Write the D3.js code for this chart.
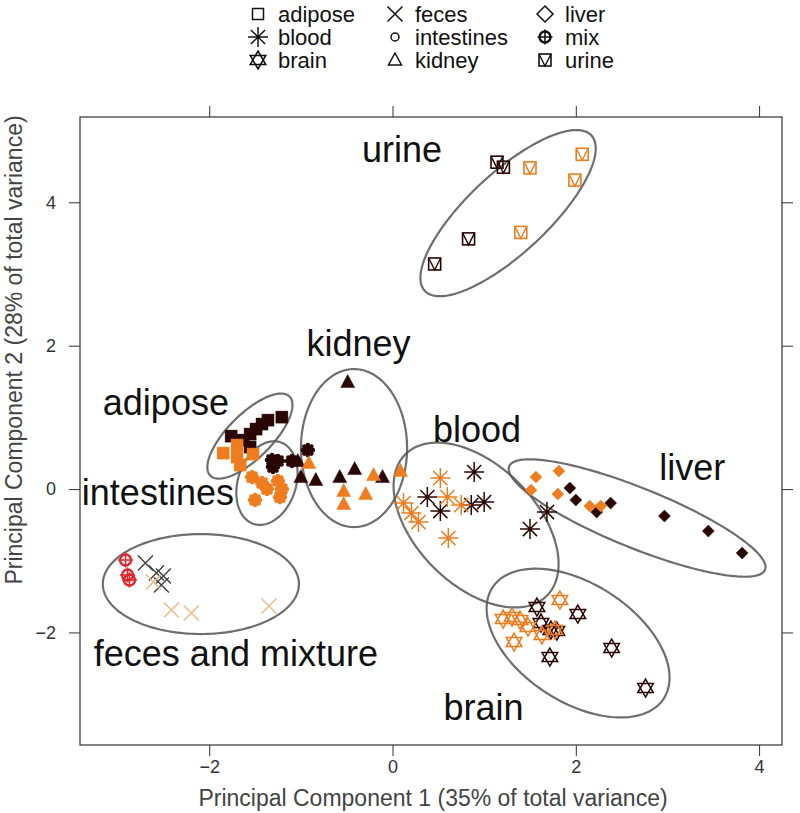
<!DOCTYPE html>
<html><head><meta charset="utf-8">
<script src="https://cdn.jsdelivr.net/npm/d3@7"></script>
<style>
body{margin:0;background:#fff;}
text{font-family:"Liberation Sans",Arial,sans-serif;}
</style>
</head><body>
<svg id="c" width="800" height="813"></svg>
<script>
// ---------- data (PC1, PC2, group: 0 = dark, 1 = orange/light) ----------
const xTicks = [-2, 0, 2, 4];
const yTicks = [-2, 0, 2, 4];
const xTitle = "Principal Component 1 (35% of total variance)";
const yTitle = "Principal Component 2 (28% of total variance)";

const adipose = [[-1.761,0.739,0],[-1.630,0.683,0],[-1.554,0.767,0],[-1.489,0.837,0],[-1.424,0.907,0],
  [-1.359,0.962,0],[-1.207,1.004,0],[-1.554,0.586,0],
  [-1.848,0.502,1],[-1.696,0.614,1],[-1.696,0.446,1],[-1.663,0.335,1],[-1.522,0.488,1]];
const intestines = [[-1.315,0.404,0],[-1.250,0.391,0],[-1.304,0.307,0],[-1.098,0.391,0],[-0.924,0.544,0],
  [-1.533,0.167,1],[-1.424,0.084,1],[-1.370,0.0,1],[-1.250,0.112,1],[-1.207,0.0,1],[-1.228,-0.112,1],[-1.500,-0.153,1]];
const kidney = [[-0.489,1.492,0],[-1.033,0.391,0],[-1.0,0.167,0],[-0.837,0.126,0],[-0.576,0.167,0],[-0.413,0.279,0],[-0.109,0.167,0],
  [-0.533,-0.028,1],[-0.533,-0.209,1],[-0.293,-0.070,1],[-0.207,0.195,1],[0.087,0.251,1],[-0.913,0.363,1]];
const blood = [[0.891,0.237,0],[0.380,-0.112,0],[0.522,-0.307,0],[0.859,-0.223,0],[1.0,-0.181,0],[1.685,-0.321,0],[1.5,-0.558,0],
  [0.522,0.153,1],[0.598,-0.112,1],[0.750,-0.223,1],[0.120,-0.195,1],[0.207,-0.335,1],[0.283,-0.460,1],[0.609,-0.683,1]];
const liver = [[1.935,0.014,0],[2.0,-0.153,0],[2.228,-0.321,0],[2.380,-0.195,0],[2.967,-0.377,0],[3.446,-0.586,0],[3.815,-0.893,0],
  [1.565,0.167,1],[1.815,0.251,1],[1.511,-0.014,1],[1.804,-0.070,1],[2.152,-0.237,1],[2.272,-0.237,1]];
const brain = [[1.576,-1.646,0],[2.022,-1.743,0],[1.620,-1.869,0],[1.728,-1.967,0],[1.793,-1.981,0],[1.717,-2.343,0],[2.391,-2.218,0],[2.761,-2.775,0],
  [1.826,-1.548,1],[1.207,-1.813,1],[1.304,-1.785,1],[1.391,-1.827,1],[1.478,-1.925,1],[1.326,-2.134,1],[1.630,-2.036,1],[1.772,-1.967,1]];
const urine = [[1.14,4.56,0],[1.21,4.49,0],[0.83,3.49,0],[0.46,3.14,0],
  [1.50,4.48,1],[2.07,4.67,1],[1.99,4.31,1],[1.40,3.58,1]];
const feces = [[-2.696,-1.032,0],[-2.576,-1.172,0],[-2.5,-1.213,0],[-2.522,-1.339,0],
  [-2.609,-1.297,1],[-2.413,-1.688,1],[-2.196,-1.729,1],[-1.348,-1.632,1]];
const mix = [[-2.913,-0.990,0],[-2.891,-1.199,0],[-2.870,-1.269,0]];

// ellipses: centre and two conjugate semi-axis vectors, in data units
const ellipses = [
  {name:"urine",      cx:1.261, cy:3.849,  u:[0.909,1.084],  v:[0.298,-0.409]},
  {name:"kidney",     cx:-0.420,cy:0.572,  u:[0,1.102],      v:[0.579,0]},
  {name:"adipose",    cx:-1.556,cy:0.739,  u:[0.432,0.552],  v:[0.170,-0.218]},
  {name:"intestines", cx:-1.370,cy:0.084,  u:[0.145,0.570],  v:[0.301,-0.125]},
  {name:"blood",      cx:0.912, cy:-0.502, u:[0.772,-0.986], v:[-0.463,-0.591]},
  {name:"liver",      cx:2.669, cy:-0.404, u:[1.396,-0.721], v:[-0.122,-0.388]},
  {name:"brain",      cx:2.025, cy:-2.148, u:[0.934,-0.775], v:[-0.352,-0.690]},
  {name:"feces",      cx:-2.091,cy:-1.325, u:[1.070,0],      v:[0,-0.697]}
];
// cluster labels (data coords of text centre / baseline)
const labels = [
  {t:"urine", x:0.104, y:4.56}, {t:"kidney", x:-0.371, y:1.855},
  {t:"adipose", x:-2.473, y:1.032}, {t:"intestines", x:-2.560, y:-0.223},
  {t:"blood", x:0.922, y:0.656}, {t:"liver", x:3.270, y:0.126},
  {t:"feces and mixture", x:-1.709, y:-2.469}, {t:"brain", x:0.993, y:-3.222}
];
const legendItems = [["adipose","blood","brain"],["feces","intestines","kidney"],["liver","mix","urine"]];

// ---------- drawing ----------
const svg = d3.select("#c");
const x = d3.scaleLinear().domain([-3.41,4.25]).range([80,782]);
const y = d3.scaleLinear().domain([-3.57,5.19]).range([745,117]);
const DARK="#2a0606", ORANGE="#ef7d1f", AX="#333";

// axes
function styleAxis(g){ g.select(".domain").remove(); g.selectAll("line").attr("stroke",AX); g.selectAll("text").attr("fill","#333"); }
svg.append("g").attr("transform","translate(0,745)")
  .call(d3.axisBottom(x).tickValues(xTicks).tickSize(11).tickPadding(4).tickFormat(d3.format("d")))
  .call(styleAxis).selectAll("text").style("font-size","18px");
svg.append("g").attr("transform","translate(0,117)")
  .call(d3.axisTop(x).tickValues(xTicks).tickSize(11).tickFormat("")).call(styleAxis);
svg.append("g").attr("transform","translate(80,0)")
  .call(d3.axisLeft(y).tickValues(yTicks).tickSize(11).tickPadding(13).tickFormat(d3.format("d")))
  .call(styleAxis).selectAll("text").style("font-size","18px");
svg.append("g").attr("transform","translate(782,0)")
  .call(d3.axisRight(y).tickValues(yTicks).tickSize(11).tickFormat("")).call(styleAxis);
svg.append("rect").attr("x",80).attr("y",117).attr("width",702).attr("height",628)
  .attr("fill","none").attr("stroke",AX).attr("stroke-width",1.2);

svg.append("text").attr("x",433).attr("y",806).attr("text-anchor","middle")
  .style("font-size","23px").attr("fill","#444").text(xTitle);
svg.append("text").attr("transform","translate(22,350) rotate(-90)").attr("text-anchor","middle")
  .style("font-size","23px").attr("fill","#444").text(yTitle);

// ellipses
const plot = svg.append("g");
const tt = d3.range(0, 2*Math.PI+0.01, Math.PI/90);
ellipses.forEach(e=>{
  const pts = tt.map(t=>[x(e.cx+e.u[0]*Math.cos(t)+e.v[0]*Math.sin(t)), y(e.cy+e.u[1]*Math.cos(t)+e.v[1]*Math.sin(t))]);
  plot.append("path").attr("d", d3.line()(pts)+"Z").attr("fill","none")
    .attr("stroke","#555").attr("stroke-width",2.2).attr("stroke-opacity",0.85);
});

// symbol drawers
const sym = {
  adipose:(g,c,fill)=>g.append("rect").attr("x",fill?-6:-5.5).attr("y",fill?-6:-5.5).attr("width",fill?12:11).attr("height",fill?12:11)
      .attr("fill",fill?c:"none").attr("stroke",c).attr("stroke-width",fill?0.5:1.5),
  intestines:(g,c,fill)=>{
    if(fill){ g.append("circle").attr("r",5).attr("fill",c);
      d3.range(8).forEach(i=>{const a=i*Math.PI/4; g.append("circle").attr("cx",5*Math.cos(a)).attr("cy",5*Math.sin(a)).attr("r",2.3).attr("fill",c);});
    } else g.append("circle").attr("r",4).attr("fill","none").attr("stroke",c).attr("stroke-width",1.5);
  },
  kidney:(g,c,fill)=>g.append("path").attr("d",fill?"M0,-7.5L7,5.5L-7,5.5Z":"M0,-7L6.5,5L-6.5,5Z").attr("fill",fill?c:"none").attr("stroke",c).attr("stroke-width",fill?0.5:1.5),
  liver:(g,c,fill)=>g.append("path").attr("d",fill?"M0,-6L6,0L0,6L-6,0Z":"M0,-8L8,0L0,8L-8,0Z").attr("fill",fill?c:"none").attr("stroke",c).attr("stroke-width",fill?0.5:1.5),
  blood:(g,c)=>{ const r=10, s=r*0.707;
    g.append("path").attr("d",`M0,${-r}V${r}M${-r},0H${r}M${-s},${-s}L${s},${s}M${-s},${s}L${s},${-s}`).attr("stroke",c).attr("stroke-width",1.5).attr("fill","none");
    g.append("circle").attr("r",1.8).attr("fill",c); },
  brain:(g,c)=>{ g.append("path").attr("d","M0,-9L7.8,4.5L-7.8,4.5ZM0,9L7.8,-4.5L-7.8,-4.5Z").attr("fill","none").attr("stroke",c).attr("stroke-width",1.5); },
  feces:(g,c)=>g.append("path").attr("d","M-7.5,-7.5L7.5,7.5M-7.5,7.5L7.5,-7.5").attr("stroke",c).attr("stroke-width",1.5),
  mix:(g,c)=>{ g.append("circle").attr("r",5.5).attr("fill","none").attr("stroke",c).attr("stroke-width",2.4);
    g.append("path").attr("d","M0,-7.5V7.5M-7.5,0H7.5").attr("stroke",c).attr("stroke-width",1.6); },
  urine:(g,c)=>{ g.append("rect").attr("x",-6).attr("y",-6).attr("width",12).attr("height",12).attr("fill","none").attr("stroke",c).attr("stroke-width",1.6);
    g.append("path").attr("d","M-6,-6L0,6L6,-6").attr("fill","none").attr("stroke",c).attr("stroke-width",1.4); }
};

function drawSet(name, arr, c0, c1, fill){
  arr.forEach(d=>{
    const g = plot.append("g").attr("transform",`translate(${x(d[0])},${y(d[1])})`);
    sym[name](g, d[2]===0?c0:c1, fill);
  });
}
drawSet("feces", feces, "#444", "#e9bb8a");
drawSet("mix", mix, "#e3262b", "#e3262b");
drawSet("adipose", adipose, DARK, ORANGE, true);
drawSet("intestines", intestines, DARK, ORANGE, true);
drawSet("kidney", kidney, DARK, ORANGE, true);
drawSet("liver", liver, DARK, ORANGE, true);
drawSet("blood", blood, DARK, ORANGE);
drawSet("brain", brain, DARK, ORANGE);
drawSet("urine", urine, DARK, ORANGE);

// cluster labels
labels.forEach(l=>svg.append("text").attr("x",x(l.x)).attr("y",y(l.y)).attr("text-anchor","middle")
  .style("font-size","36px").attr("fill","#111").text(l.t));

// legend
const colX = [258, 395, 545], rowY = [14, 37, 60];
legendItems.forEach((col,ci)=>col.forEach((name,ri)=>{
  const g = svg.append("g").attr("transform",`translate(${colX[ci]},${rowY[ri]})`);
  sym[name](g, "#111", false);
  svg.append("text").attr("x",colX[ci]+20).attr("y",rowY[ri]+7.5).style("font-size","22px").attr("fill","#111").text(name);
}));
</script>
</body></html>
